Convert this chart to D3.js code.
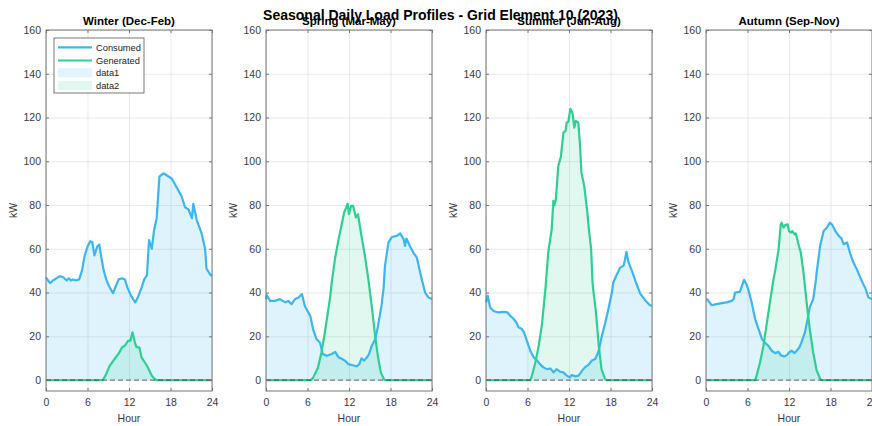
<!DOCTYPE html>
<html><head><meta charset="utf-8">
<script src="https://cdn.jsdelivr.net/npm/d3@7"></script>
<style>
body{margin:0;background:#fff}
svg{display:block}
text{font-family:Arial,"Liberation Sans",Helvetica,sans-serif}
</style>
</head><body>
<svg id="c" width="872" height="426"></svg>
<script>
// ---------- data: [hour, kW] ----------
const winterConsumed = [[0,47],[0.3,45.5],[0.6,44.3],[1.0,45.5],[1.5,46.5],[2.0,47.5],[2.5,47],[3.0,45.5],[3.3,46.5],[3.6,45.5],[3.9,46],[4.3,45.5],[4.8,46],[5.2,50],[5.6,57],[6.0,61],[6.4,63.5],[6.7,63],[7.0,57],[7.4,61],[7.7,62],[8.0,56],[8.3,50.7],[8.7,46],[9.1,43],[9.7,39.7],[10.1,43],[10.5,46],[11.0,46.5],[11.4,46],[11.8,42],[12.3,38.5],[12.9,35.5],[13.3,38],[13.8,42],[14.2,46],[14.6,48],[14.9,64],[15.3,60],[15.6,68],[16.0,74],[16.4,93],[16.97,94.5],[17.5,93.5],[18.2,92],[18.9,88],[19.6,84],[20.1,79],[20.6,78],[21.1,74],[21.3,80.5],[21.8,73],[22.5,67],[23.0,60],[23.2,51],[23.8,48],[24,48]];
const winterGenerated = [[0,0],[8.2,0],[8.6,2],[9.2,6.5],[9.9,9.6],[10.6,12.6],[11.0,15],[11.4,15.7],[11.9,18],[12.2,18],[12.5,21.8],[12.9,16.6],[13.1,15],[13.5,15],[13.8,10.5],[14.2,8.5],[14.6,6.5],[15.3,2],[15.8,0.3],[16,0],[24,0]];

const springConsumed = [[0,37],[0.1,38.8],[0.6,36.2],[1.3,36.2],[2.0,37],[2.8,35.5],[3.2,36.2],[3.7,34.7],[4.2,37],[4.7,37.7],[5.2,39.3],[5.6,34],[6.0,31.6],[6.4,29.4],[6.8,23.3],[7.3,18.7],[7.8,17.2],[8.2,11.9],[8.8,11.1],[9.5,11.9],[10.0,12.9],[10.5,10.4],[11.0,9.6],[11.4,8.9],[11.9,7.3],[12.4,6.9],[13.1,6.3],[13.5,7.3],[13.8,9.9],[14.2,8.9],[14.6,10.4],[14.9,11.9],[15.3,15.7],[15.8,18.7],[16.2,24.8],[16.7,34],[17.0,42],[17.2,52.2],[17.7,62.8],[18.2,65.4],[18.9,65.9],[19.4,67],[19.9,64.4],[20.1,61.3],[20.3,64.7],[20.8,61.3],[21.3,58.3],[21.8,56],[22.3,49],[22.6,45],[23.0,40],[23.5,37.7],[24,37]];
const springGenerated = [[0,0],[6.5,0],[6.8,1],[7.5,5.5],[8.0,12.4],[8.5,21.5],[9.3,38.5],[9.5,44.6],[10.0,56],[10.5,64.4],[11.0,72],[11.3,76.6],[11.6,78.9],[11.8,80.6],[12.0,75.8],[12.3,79.6],[12.6,79.6],[13.0,74.3],[13.3,75.8],[13.8,65.9],[14.3,56.8],[14.8,46],[15.2,36],[15.5,28],[15.8,19.5],[16.2,10.4],[16.6,3.5],[17.0,0.6],[17.2,0],[24,0]];

const summerConsumed = [[0,35.5],[0.24,38.5],[0.6,33.2],[1.1,31.6],[1.8,30.9],[2.5,31.2],[3.1,30.9],[3.5,29.4],[4.0,27.9],[4.4,26.3],[4.7,24.1],[5.2,23.3],[5.5,21.8],[5.9,18],[6.4,13.4],[6.9,10.4],[7.4,8.9],[7.8,7.3],[8.3,5.8],[8.8,5],[9.3,5.3],[9.8,3.5],[10.2,5],[10.7,3.8],[11.2,3.5],[11.7,2],[12.1,1.2],[12.4,2.3],[12.9,1.7],[13.4,2],[13.9,4.3],[14.3,5.8],[14.8,6.9],[15.3,8.9],[15.8,9.6],[16.3,13.4],[16.7,19.5],[17.2,25.6],[17.7,32.5],[18.2,40],[18.4,44.6],[18.9,48.1],[19.4,51.4],[19.9,52.3],[20.1,55.2],[20.3,58.6],[20.6,53.8],[21.1,49.9],[21.6,45.3],[22.3,39.5],[23.0,36.5],[23.7,34.2],[24,34]];
const summerGenerated = [[0,0],[6.4,0],[6.6,1.5],[7.1,7.6],[7.6,15.2],[8.1,25.8],[8.6,42],[9.0,58.3],[9.5,68.9],[9.74,81.9],[9.88,79.9],[10.1,82.6],[10.45,97.9],[10.8,101.7],[11.2,113.1],[11.5,113.9],[11.67,117.7],[11.9,118],[12.2,124],[12.5,122.2],[12.77,115.4],[13.0,118.5],[13.35,117.7],[13.6,107],[13.8,94.8],[14.2,88.7],[14.6,78],[14.9,68.2],[15.2,59.8],[15.4,44.6],[15.5,41.5],[15.9,30.9],[16.3,15.7],[16.7,5],[17.2,0.6],[17.4,0],[24,0]];

const autumnConsumed = [[0,37],[0.24,36.7],[0.8,34.2],[1.5,34.7],[2.3,35.2],[3.0,35.5],[3.7,36.2],[4.0,37],[4.2,40],[4.9,40.3],[5.2,43],[5.5,45.8],[5.9,43.4],[6.1,41.5],[6.6,35.5],[7.1,27.9],[7.6,23.3],[8.1,18.7],[8.5,17.2],[9.0,15.7],[9.5,13.4],[10.0,12.3],[10.5,12.9],[10.8,11.4],[11.3,10.8],[11.7,11.4],[12.0,12.6],[12.4,13.4],[12.8,12.3],[13.1,13.4],[13.5,14.9],[13.8,17.2],[14.3,21.8],[14.7,27.9],[15.0,33.2],[15.5,37],[15.9,46],[16.0,49.1],[16.5,61.3],[17.0,68.1],[17.5,69.7],[17.9,71.9],[18.2,71.2],[18.7,68.1],[19.2,65.9],[19.6,64.7],[19.9,62.1],[20.4,62.9],[20.8,58.3],[21.3,53.8],[21.8,50.7],[22.3,46.9],[22.8,43.4],[23.0,42.3],[23.5,37.7],[24,37]];
const autumnGenerated = [[0,0],[7.1,0],[7.3,1.8],[7.8,7.9],[8.3,15.5],[8.8,26.1],[9.3,36.7],[9.7,45],[10.0,50],[10.5,59.8],[10.8,71.2],[10.95,71.9],[11.2,69.7],[11.4,70.7],[11.8,71.2],[12.0,68.1],[12.3,67.4],[12.5,68.1],[12.8,66.6],[13.0,67],[13.3,62.9],[13.7,58.3],[14.1,49.1],[14.2,46],[14.6,34],[15.0,23.3],[15.5,12.6],[16.0,4.3],[16.5,0.6],[16.7,0],[24,0]];

const seasonTitles = ["Winter (Dec-Feb)","Spring (Mar-May)","Summer (Jun-Aug)","Autumn (Sep-Nov)"];
const consumedSeries = [winterConsumed, springConsumed, summerConsumed, autumnConsumed];
const generatedSeries = [winterGenerated, springGenerated, summerGenerated, autumnGenerated];
const xTicks = [0,6,12,18,24];
const yTicks = [0,20,40,60,80,100,120,140,160];
const legendLabels = ["Consumed","Generated","data1","data2"];
const mainTitle = "Seasonal Daily Load Profiles - Grid Element 10 (2023)";

// ---------- layout / style ----------
const W = 872, H = 426;
const plotW = 166, plotTop = 30, plotBottom = 391;
const lefts = [46, 266, 486, 706];
const cLine = "#3bb6f0", gLine = "#2fcf92";
const axisCol = "#777", textCol = "#3a3a3a";

const svg = d3.select("#c");
svg.append("rect").attr("width", W).attr("height", H).attr("fill", "#fff");

seasonTitles.forEach((t, i) => {
  const x = d3.scaleLinear().domain([0, 24]).range([lefts[i], lefts[i] + plotW]);
  const y = d3.scaleLinear().domain([-5, 160]).range([plotBottom, plotTop]);
  const g = svg.append("g");

  // grid
  const gx = g.append("g").attr("transform", `translate(0,${plotBottom})`)
    .call(d3.axisBottom(x).tickValues(xTicks).tickSize(-(plotBottom - plotTop)).tickFormat(""));
  const gy = g.append("g").attr("transform", `translate(${lefts[i]},0)`)
    .call(d3.axisLeft(y).tickValues(yTicks).tickSize(-plotW).tickFormat(""));
  [gx, gy].forEach(a => {
    a.select(".domain").remove();
    a.selectAll(".tick line").attr("stroke", "#e3e3e3").attr("stroke-width", 0.8);
  });

  // fills
  const area = d3.area().x(d => x(d[0])).y0(y(0)).y1(d => y(d[1]));
  g.append("path").datum(consumedSeries[i]).attr("d", area)
    .attr("fill", cLine).attr("fill-opacity", 0.16);
  g.append("path").datum(generatedSeries[i]).attr("d", area)
    .attr("fill", gLine).attr("fill-opacity", 0.15);

  // lines
  const line = d3.line().x(d => x(d[0])).y(d => y(d[1]));
  g.append("path").datum(consumedSeries[i]).attr("d", line)
    .attr("fill", "none").attr("stroke", cLine).attr("stroke-width", 2.2)
    .attr("stroke-linejoin", "round");
  g.append("path").datum(generatedSeries[i]).attr("d", line)
    .attr("fill", "none").attr("stroke", gLine).attr("stroke-width", 2.2)
    .attr("stroke-linejoin", "round");

  // zero dashed line
  g.append("line").attr("x1", x(0)).attr("x2", x(24)).attr("y1", y(0)).attr("y2", y(0))
    .attr("stroke", "#333").attr("stroke-opacity", 0.6).attr("stroke-width", 1.2)
    .attr("stroke-dasharray", "5,3");

  // axes (ticks inward)
  const ax = g.append("g").attr("transform", `translate(0,${plotBottom})`)
    .call(d3.axisBottom(x).tickValues(xTicks).tickSizeInner(-3).tickSizeOuter(0).tickPadding(8));
  const ay = g.append("g").attr("transform", `translate(${lefts[i]},0)`)
    .call(d3.axisLeft(y).tickValues(yTicks).tickSizeInner(-3).tickSizeOuter(0).tickPadding(5));
  const at = g.append("g").attr("transform", `translate(0,${plotTop})`)
    .call(d3.axisTop(x).tickValues(xTicks).tickSizeInner(-3).tickSizeOuter(0).tickFormat(""));
  const ar = g.append("g").attr("transform", `translate(${lefts[i] + plotW},0)`)
    .call(d3.axisRight(y).tickValues(yTicks).tickSizeInner(-3).tickSizeOuter(0).tickFormat(""));
  [ax, ay, at, ar].forEach(a => {
    a.select(".domain").remove();
    a.selectAll(".tick line").attr("stroke", axisCol);
    a.selectAll(".tick text").attr("fill", textCol).style("font-size", "10.5px")
      .style("font-family", 'Arial,"Liberation Sans",sans-serif');
  });
  g.append("rect").attr("x", lefts[i]).attr("y", plotTop).attr("width", plotW).attr("height", plotBottom - plotTop)
    .attr("fill", "none").attr("stroke", axisCol).attr("stroke-width", 1);

  // labels
  g.append("text").attr("x", x(12)).attr("y", 422).attr("text-anchor", "middle")
    .attr("fill", textCol).style("font-size", "10.5px").text("Hour");
  g.append("text").attr("transform", `translate(${lefts[i] - 29},${(plotTop + plotBottom) / 2}) rotate(-90)`)
    .attr("text-anchor", "middle").attr("fill", textCol).style("font-size", "10.5px").text("kW");
  g.append("text").attr("x", x(12)).attr("y", 25).attr("text-anchor", "middle")
    .attr("fill", "#000").style("font-size", "11.5px").style("font-weight", "bold").text(t);

  // legend (first subplot)
  if (i === 0) {
    const lg = g.append("g").attr("transform", "translate(54,38)");
    lg.append("rect").attr("width", 90).attr("height", 55).attr("fill", "#fff")
      .attr("stroke", "#555").attr("stroke-width", 0.8);
    const rows = [9.3, 22.5, 34.8, 47.5];
    legendLabels.forEach((lab, k) => {
      const yy = rows[k];
      if (k < 2) {
        lg.append("line").attr("x1", 4).attr("x2", 38).attr("y1", yy).attr("y2", yy)
          .attr("stroke", k === 0 ? cLine : gLine).attr("stroke-width", 2.2);
      } else {
        lg.append("rect").attr("x", 4).attr("y", yy - 4.5).attr("width", 34).attr("height", 9)
          .attr("fill", k === 2 ? cLine : gLine).attr("fill-opacity", 0.15);
      }
      lg.append("text").attr("x", 42).attr("y", yy + 3.3).attr("fill", "#222")
        .style("font-size", "9.3px").text(lab);
    });
  }
});

svg.append("text").attr("x", 440.5).attr("y", 19.5).attr("text-anchor", "middle")
  .attr("fill", "#000").style("font-size", "14px").style("font-weight", "bold").text(mainTitle);
</script>
</body></html>
